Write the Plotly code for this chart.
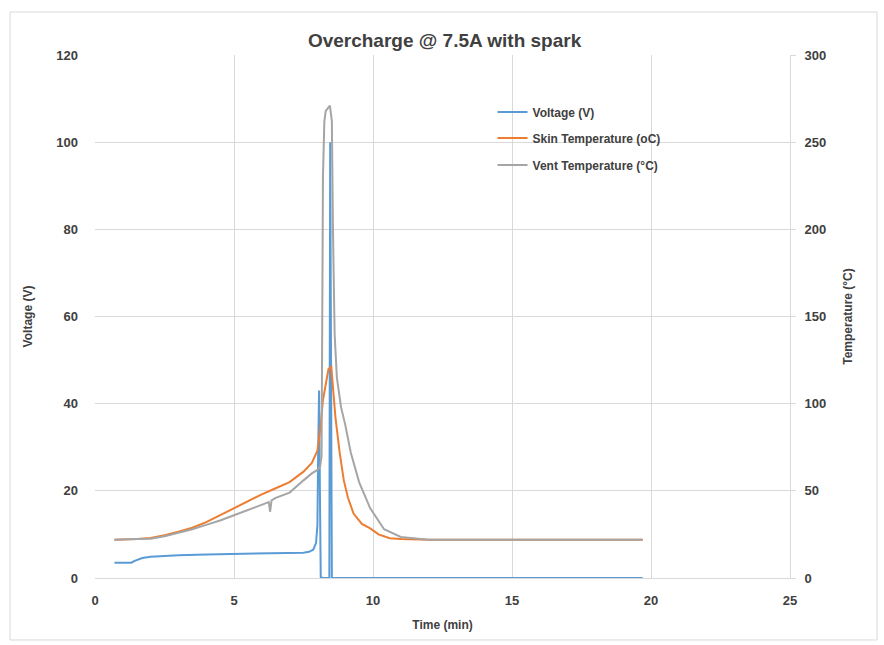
import plotly.graph_objects as go

# ---- Data ----
volt_t = [0.7, 1.0, 1.3, 1.45, 1.7, 2.0, 2.5, 3.0, 4.0, 5.0, 6.0, 7.0, 7.5, 7.7, 7.85, 7.95,
          8.0, 8.03, 8.06, 8.09, 8.12, 8.2, 8.3, 8.4, 8.43, 8.46, 8.49, 8.52, 9.0, 12.0, 15.0, 19.7]
volt_v = [3.5, 3.5, 3.5, 4.0, 4.6, 4.9, 5.1, 5.2, 5.4, 5.5, 5.6, 5.7, 5.8, 6.0, 6.5, 8.0,
          12.0, 30.0, 43.0, 20.0, 0.2, 0.0, 0.0, 0.0, 0.0, 100.0, 60.0, 0.0, 0.0, 0.0, 0.0, 0.0]

skin_t = [0.7, 1.0, 1.5, 2.0, 2.5, 3.0, 3.5, 4.0, 4.5, 5.0, 5.5, 6.0, 6.5, 7.0, 7.5, 7.8,
          8.0, 8.1, 8.2, 8.3, 8.4, 8.5, 8.55, 8.65, 8.8, 8.95, 9.1, 9.3, 9.6, 9.9, 10.2, 10.6,
          11.0, 12.0, 14.0, 16.0, 18.0, 19.7]
skin_v = [22, 22, 22.3, 23, 24.5, 26.5, 28.8, 32, 36, 40, 44, 48, 51.5, 55, 61, 66,
          73, 85, 102, 112, 120, 121, 112, 92, 72, 56, 46, 37, 31, 28.5, 25, 22.8,
          22.3, 22, 22, 22, 22, 22]

vent_t = [0.7, 1.0, 1.5, 2.0, 2.5, 3.0, 3.5, 4.0, 4.5, 5.0, 5.5, 6.0, 6.25, 6.3, 6.35, 6.5,
          7.0, 7.5, 7.8, 8.0, 8.1, 8.15, 8.2, 8.25, 8.3, 8.45, 8.52, 8.56, 8.62, 8.7, 8.85,
          9.0, 9.2, 9.5, 9.9, 10.4, 11.0, 12.0, 14.0, 16.0, 18.0, 19.7]
vent_v = [22, 22, 22.3, 22.5, 24, 26, 28, 30.5, 33, 36, 39, 42, 43.5, 38, 44.5, 46,
          49, 56, 60, 62, 64, 70, 230, 262, 268, 271, 262, 200, 140, 115, 98,
          88, 72, 55, 40, 28, 23.5, 22, 22, 22, 22, 22]

x_ticks = [0, 5, 10, 15, 20, 25]
v_ticks = [0, 20, 40, 60, 80, 100, 120]
t_ticks = [0, 50, 100, 150, 200, 250, 300]

BLUE = "#5B9BD5"
ORANGE = "#ED7D31"
GRAY = "#A5A5A5"
TXT = "#404040"
GRID = "#D9D9D9"
FONT = "Liberation Sans, Arial"

def b(s):
    return "<b>" + s + "</b>"

fig = go.Figure()
fig.add_trace(go.Scatter(x=volt_t, y=volt_v, mode="lines", name=b("Voltage (V)"),
                         line=dict(color=BLUE, width=2), yaxis="y", legend="legend"))
fig.add_trace(go.Scatter(x=skin_t, y=skin_v, mode="lines", name=b("Skin Temperature (oC)"),
                         line=dict(color=ORANGE, width=2), yaxis="y2", legend="legend2"))
fig.add_trace(go.Scatter(x=vent_t, y=vent_v, mode="lines", name=b("Vent Temperature (°C)"),
                         line=dict(color=GRAY, width=2), yaxis="y2", legend="legend3"))

leg_common = dict(x=0.572, xanchor="left", yanchor="middle", bgcolor="rgba(0,0,0,0)",
                  font=dict(size=12, color=TXT, family=FONT), itemwidth=30)

fig.update_layout(
    width=884, height=645,
    margin=dict(l=95, r=94, t=55, b=67),
    paper_bgcolor="white", plot_bgcolor="white",
    font=dict(family=FONT, size=12, color=TXT),
    title=dict(text=b("Overcharge @ 7.5A with spark"), x=0.503, xref="paper",
               y=1 - 40 / 645, yref="container", yanchor="middle",
               font=dict(size=19, color=TXT, family=FONT)),
    xaxis=dict(range=[0, 25], tickvals=x_ticks, ticktext=[b(str(v)) for v in x_ticks],
               showgrid=True, gridcolor=GRID, gridwidth=1,
               zeroline=False, showline=True, linecolor=GRID, ticks="", ticklen=0,
               ticklabelstandoff=10,
               title=dict(text=b("Time (min)"), standoff=14, font=dict(size=12, color=TXT)),
               tickfont=dict(size=13, color=TXT)),
    yaxis=dict(range=[0, 120], tickvals=v_ticks, ticktext=[b(str(v)) for v in v_ticks],
               showgrid=True, gridcolor=GRID, gridwidth=1,
               zeroline=False, showline=False, ticks="", ticklabelstandoff=16,
               title=dict(text=b("Voltage (V)"), standoff=21, font=dict(size=12, color=TXT)),
               tickfont=dict(size=13, color=TXT)),
    yaxis2=dict(range=[0, 300], tickvals=t_ticks, ticktext=[b(str(v)) for v in t_ticks],
                overlaying="y", side="right",
                showgrid=False, zeroline=False, showline=True, linecolor=GRID,
                ticks="outside", ticklen=5, tickcolor=GRID, ticklabelstandoff=6,
                title=dict(text=b("Temperature (°C)"), standoff=18, font=dict(size=12, color=TXT)),
                tickfont=dict(size=13, color=TXT)),
    legend=dict(y=(578 - 112) / 523, **leg_common),
    legend2=dict(y=(578 - 138) / 523, **leg_common),
    legend3=dict(y=(578 - 165) / 523, **leg_common),
    showlegend=True,
    shapes=[dict(type="rect", xref="paper", yref="paper",
                 x0=-0.1223, x1=1.1252, y0=-0.1185, y1=1.0822,
                 line=dict(color="#D9D9D9", width=1), fillcolor="rgba(0,0,0,0)", layer="below")],
)

fig.write_html("out.html")
